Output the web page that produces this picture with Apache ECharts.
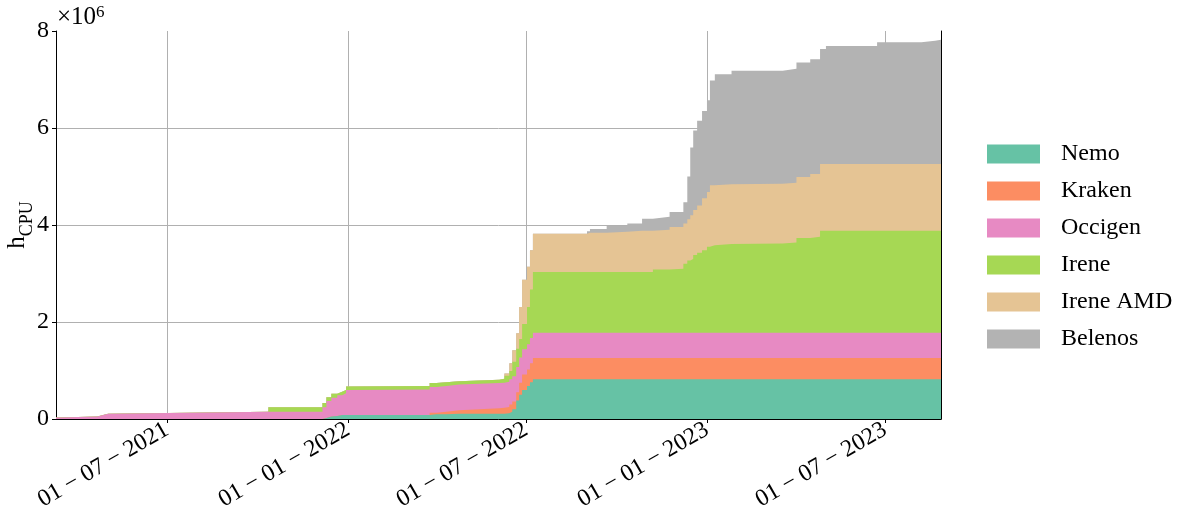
<!DOCTYPE html>
<html>
<head>
<meta charset="utf-8">
<script src="https://cdn.jsdelivr.net/npm/echarts@6/dist/echarts.min.js"></script>
<style>
  html, body { margin: 0; padding: 0; background: #fff; }
  #chart { width: 1190px; height: 507px; }
</style>
</head>
<body>
<div id="chart"></div>
<script>
// Cumulative CPU hours per machine, in units of 10^6 h (stacked, step-wise)
const dates = [
  '2021-03-10','2021-03-13','2021-04-21','2021-04-27','2021-05-02','2021-10-12',
  '2021-12-06','2021-12-10','2021-12-15','2021-12-21','2021-12-26','2021-12-30',
  '2022-01-02','2022-03-25','2022-04-01','2022-04-11','2022-04-24','2022-06-04',
  '2022-06-09','2022-06-14','2022-06-17','2022-06-21','2022-06-24','2022-06-27',
  '2022-07-02','2022-07-05','2022-07-08','2022-09-01','2022-09-04','2022-09-21',
  '2022-10-12','2022-10-27','2022-11-07','2022-11-24','2022-12-08','2022-12-12',
  '2022-12-15','2022-12-18','2022-12-22','2022-12-27','2023-01-01','2023-01-04',
  '2023-01-09','2023-01-26','2023-03-19','2023-04-02','2023-04-16','2023-04-26',
  '2023-05-02','2023-06-23','2023-08-07','2023-08-21','2023-08-27'
];
const nemo = [
  0,0,0,0,0,0,
  0.02,0.05,0.06,0.08,0.08,0.08,
  0.08,0.10,0.10,0.11,0.11,0.11,
  0.12,0.15,0.20,0.38,0.50,0.60,
  0.68,0.76,0.82,0.82,0.82,0.82,
  0.82,0.82,0.82,0.82,0.82,0.82,
  0.82,0.82,0.82,0.82,0.82,0.82,
  0.82,0.82,0.82,0.82,0.82,0.82,
  0.82,0.82,0.82,0.82,0.82
];
const kraken = [
  0,0,0,0,0,0,
  0,0,0,0,0,0,
  0,0.03,0.05,0.07,0.11,0.12,
  0.13,0.15,0.16,0.17,0.25,0.32,
  0.34,0.39,0.44,0.44,0.44,0.44,
  0.44,0.44,0.44,0.44,0.44,0.44,
  0.44,0.44,0.44,0.44,0.44,0.44,
  0.44,0.44,0.44,0.44,0.44,0.44,
  0.44,0.44,0.44,0.44,0.44
];
const occigen = [
  0.03,0.05,0.08,0.11,0.15,0.15,
  0.22,0.32,0.38,0.41,0.45,0.52,
  0.53,0.53,0.53,0.53,0.52,0.52,
  0.52,0.52,0.52,0.52,0.52,0.52,
  0.52,0.52,0.52,0.52,0.52,0.52,
  0.52,0.52,0.52,0.52,0.52,0.52,
  0.52,0.52,0.52,0.52,0.52,0.52,
  0.52,0.52,0.52,0.52,0.52,0.52,
  0.52,0.52,0.52,0.52,0.52
];
const irene = [
  0,0,0,0,0,0.09,
  0.09,0.08,0.08,0.07,0.07,0.07,
  0.07,0.08,0.08,0.07,0.07,0.08,
  0.12,0.17,0.30,0.38,0.38,0.52,
  0.77,1.00,1.25,1.25,1.25,1.25,
  1.25,1.25,1.30,1.32,1.42,1.49,
  1.52,1.60,1.65,1.70,1.77,1.80,
  1.83,1.84,1.86,1.95,1.98,2.10,
  2.10,2.10,2.10,2.10,2.10
];
const ireneAmd = [
  0,0,0,0,0,0,
  0,0,0,0,0,0,
  0,0,0,0,0,0,
  0.05,0.16,0.24,0.32,0.66,0.91,
  0.83,0.81,0.79,0.81,0.81,0.83,
  0.85,0.85,0.82,0.86,0.83,0.85,
  0.90,0.93,0.97,1.07,1.13,1.24,
  1.23,1.23,1.23,1.26,1.29,1.38,
  1.38,1.38,1.38,1.38,1.38
];
const belenos = [
  0,0,0,0,0,0,
  0,0,0,0,0,0,
  0,0,0,0,0,0,
  0,0,0,0,0,0,
  0,0,0,0.03,0.08,0.12,
  0.15,0.25,0.27,0.31,0.44,0.88,
  1.40,1.64,1.75,1.80,1.89,2.16,
  2.27,2.33,2.35,2.36,2.37,2.37,
  2.43,2.51,2.54,2.56,2.56
];

const seriesNames = ['Nemo', 'Kraken', 'Occigen', 'Irene', 'Irene AMD', 'Belenos'];
const seriesValues = [nemo, kraken, occigen, irene, ireneAmd, belenos];
const colors = ['#66c2a5', '#fc8d62', '#e78ac3', '#a6d854', '#e5c494', '#b3b3b3'];

const xTickDates = ['2021-07-01', '2022-01-01', '2022-07-01', '2023-01-01', '2023-07-01'];
const yTicks = [0, 2, 4, 6, 8];

const FONT = '"Liberation Serif", "DejaVu Serif", serif';

function toTime(s) { return new Date(s + 'T00:00:00').getTime(); }
function pad2(n) { return (n < 10 ? '0' : '') + n; }
function fmtDate(v) {
  const d = new Date(v);
  const sep = ' \u2212 ';
  return pad2(d.getDate()) + sep + pad2(d.getMonth() + 1) + sep + d.getFullYear();
}

const times = dates.map(toTime);
const xTickTimes = xTickDates.map(toTime);

// Running totals: each layer is filled from zero up to the sum of itself and
// every layer below it; lower layers are painted over the upper ones.
const running = times.map(() => 0);
const stackedTops = seriesValues.map(vals => vals.map((v, i) => (running[i] += v)));

const chart = echarts.init(document.getElementById('chart'), null, { renderer: 'canvas' });

const series = seriesNames.map((name, k) => ({
  name: name,
  type: 'line',
  step: 'end',
  symbol: 'none',
  showSymbol: false,
  data: times.map((t, i) => [t, +stackedTops[k][i].toFixed(4)]),
  lineStyle: { width: 0 },
  itemStyle: { color: colors[k] },
  areaStyle: { color: colors[k], opacity: 1, origin: 'start' },
  emphasis: { disabled: true },
  z: 10 - k
}));

chart.setOption({
  animation: false,
  backgroundColor: '#fff',
  grid: {
    left: 56, right: 249, top: 31, bottom: 88,
    containLabel: false,
    outerBoundsMode: 'none'
  },
  xAxis: [{
    type: 'value',
    min: times[0],
    max: times[times.length - 1],
    axisLine: { show: true, lineStyle: { color: '#999', width: 1 } },
    axisTick: {
      show: true, length: 4, inside: false,
      customValues: xTickTimes,
      lineStyle: { color: '#000', width: 1 }
    },
    axisLabel: {
      customValues: xTickTimes,
      formatter: fmtDate,
      rotate: 30,
      margin: 9,
      fontFamily: FONT,
      fontSize: 24,
      color: '#000'
    },
    splitLine: { show: true, lineStyle: { color: '#b0b0b0', width: 1 } }
  }, {
    // top frame line
    type: 'value', position: 'top', min: 0, max: 1, z: 1,
    axisLine: { show: true, lineStyle: { color: '#000', width: 1 } },
    axisTick: { show: false }, axisLabel: { show: false }, splitLine: { show: false }
  }],
  yAxis: [{
    type: 'value',
    min: 0, max: 8, interval: 2,
    name: '{h|h}{s|CPU}',
    nameLocation: 'middle',
    nameRotate: 90,
    nameGap: 20,
    nameMoveOverlap: false,
    nameTextStyle: {
      rich: {
        h: { fontFamily: FONT, fontSize: 25, color: '#000', verticalAlign: 'bottom', padding: [0, 0, 6, 0] },
        s: { fontFamily: FONT, fontSize: 18, color: '#000', verticalAlign: 'bottom' }
      }
    },
    axisLine: { show: true, lineStyle: { color: '#000', width: 1 } },
    axisTick: { show: true, length: 4, lineStyle: { color: '#000', width: 1 } },
    axisLabel: {
      formatter: v => (yTicks.indexOf(v) >= 0 ? String(v) : ''),
      margin: 7,
      fontFamily: FONT,
      fontSize: 24,
      color: '#000'
    },
    splitLine: { show: true, showMinLine: false, showMaxLine: false, lineStyle: { color: '#b0b0b0', width: 1 } }
  }, {
    // right frame line
    type: 'value', position: 'right', min: 0, max: 1, z: 1,
    axisLine: { show: true, lineStyle: { color: '#000', width: 1 } },
    axisTick: { show: false }, axisLabel: { show: false }, splitLine: { show: false }
  }],
  legend: {
    orient: 'vertical',
    left: 987,
    top: 142,
    padding: 0,
    icon: 'rect',
    itemWidth: 53,
    itemHeight: 19,
    itemGap: 13,
    data: seriesNames,
    textStyle: { fontFamily: FONT, fontSize: 24, color: '#000', lineHeight: 24, padding: [0, 0, 0, 16] },
    selectedMode: false
  },
  graphic: [{
    type: 'text',
    left: 57,
    top: 4,
    style: {
      text: '{a|\u00d710}{b|6}',
      rich: {
        a: { fontFamily: FONT, fontSize: 25, fill: '#000', verticalAlign: 'bottom' },
        b: { fontFamily: FONT, fontSize: 17, fill: '#000', verticalAlign: 'bottom', padding: [0, 0, 9, 0] }
      }
    }
  }],
  series: series
});
</script>
</body>
</html>
